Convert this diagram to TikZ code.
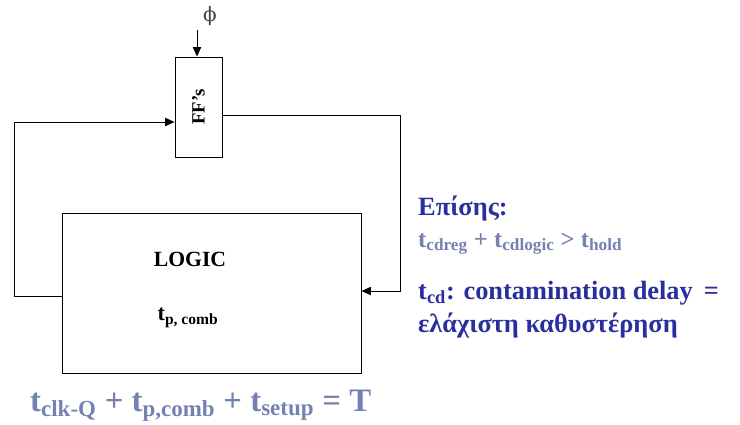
\documentclass[tikz,border=0pt]{standalone}
\usepackage{fontspec}
\setmainfont{Liberation Serif}
\newfontfamily\symfont{DejaVu Serif}
\usetikzlibrary{arrows.meta,positioning,calc}
\definecolor{deepblue}{HTML}{2A2F9E}
\definecolor{slateblue}{HTML}{7482B2}
\tikzset{
  block/.style={rectangle,draw=black,line width=0.75pt,fill=white,inner sep=0pt},
  myarrow/.style={-{Triangle[length=8pt,width=7pt]},line width=0.75pt,#1},
  myarrow/.default={black},
  bluetxt/.style={anchor=base west,inner sep=0pt,text=deepblue,font=\fontsize{22.5}{26}\selectfont\bfseries},
  greytxt/.style={anchor=base west,inner sep=0pt,text=slateblue,font=\fontsize{21}{24}\selectfont\bfseries},
}
\begin{document}
\begin{tikzpicture}[x=0.03cm,y=-0.03cm]
  \useasboundingbox (0,0) rectangle (740,424);
  % blocks
  \node[block,minimum width=1.41cm,minimum height=3cm] (ff) at (198.5,107) {};
  \node[rotate=90,font=\fontsize{16}{18}\selectfont\bfseries] (fflbl) at (ff.center) {FF’s};
  \node[block,minimum width=8.97cm,minimum height=4.8cm] (logic) at (211.5,293) {};
  \node[font=\fontsize{18.5}{20}\selectfont\bfseries] (logiclbl) at (190,259) {LOGIC};
  \node[font=\fontsize{19}{20}\selectfont\bfseries] (tpcomb) at (188,318) {t\textsubscript{p, comb}};
  % clock
  \node[font=\fontsize{17}{18}\selectfont\symfont,text=black!75] (phi) at (210,16) {ϕ};
  \coordinate (clk) at (197,30);
  \draw[myarrow] (clk) -- (ff.north -| clk);
  % feedback paths
  \draw[myarrow] (logic.west |- 0,296) -- (14,296) |- (ff.west |- 0,122);
  \draw[myarrow] (ff.east |- 0,115) -| (400,291) -- (logic.east |- 0,291);
  % timing equation
  \node[anchor=base west,inner sep=0pt,text=slateblue,font=\fontsize{28}{32}\selectfont\bfseries] (eqT)
    at (30,411) {t\textsubscript{clk-Q} + t\textsubscript{p,comb} + t\textsubscript{setup} = T};
  % notes
  \node[bluetxt] (episis) at (418,215) {Επίσης:};
  \node[greytxt] (hold) at (418,247) {t\textsubscript{cdreg} + t\textsubscript{cdlogic} > t\textsubscript{hold}};
  \node[bluetxt] (tcd) at (418,299) {t\textsubscript{cd}: contamination delay\, =};
  \node[bluetxt] (greek) at (418,332) {ελάχιστη καθυστέρηση};
\end{tikzpicture}
\end{document}
